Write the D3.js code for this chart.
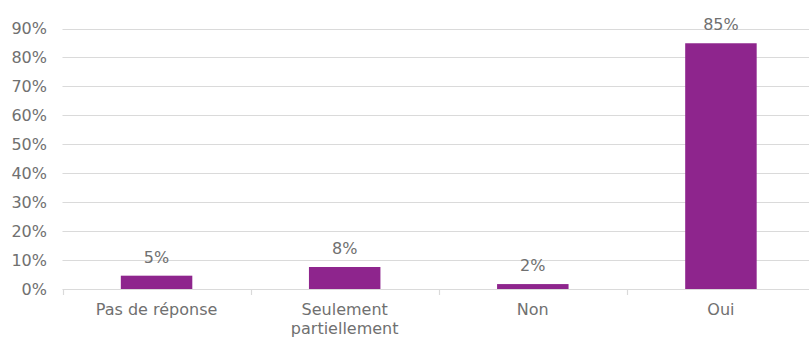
<!DOCTYPE html>
<html>
<head>
<meta charset="utf-8">
<script src="https://cdn.jsdelivr.net/npm/d3@7"></script>
<style>
  body { margin: 0; background: #fff; }
  text { font-family: "DejaVu Sans", sans-serif; }
</style>
</head>
<body>
<div id="chart"></div>
<script>
// values (percent)
const categories = ['Pas de réponse', 'Seulement\npartiellement', 'Non', 'Oui'];
const values = [4.6, 7.6, 1.7, 84.9];
const yTicks = [0, 10, 20, 30, 40, 50, 60, 70, 80, 90];

const width = 809, height = 340;
const margin = { top: 28.5, left: 62.5, bottom: 289 };

const svg = d3.select('#chart').append('svg')
  .attr('width', width)
  .attr('height', height);

const x = d3.scaleBand()
  .domain(categories)
  .range([margin.left, 815])
  .paddingInner(0.62)
  .paddingOuter(0.31);

const y = d3.scaleLinear()
  .domain([0, 90])
  .range([margin.bottom, margin.top]);

const textColor = '#707070';
const gridColor = '#dadada';
const barColor = '#8e258d';

// horizontal gridlines
svg.append('g')
  .selectAll('line')
  .data(yTicks)
  .enter()
  .append('line')
  .attr('x1', margin.left)
  .attr('x2', width)
  .attr('y1', d => Math.round(y(d)) + 0.5)
  .attr('y2', d => Math.round(y(d)) + 0.5)
  .attr('stroke', gridColor)
  .attr('stroke-width', 1.2);

// y axis labels
const yAxis = d3.axisLeft(y)
  .tickValues(yTicks)
  .tickSize(0)
  .tickPadding(0)
  .tickFormat(d => d + '%');

svg.append('g')
  .attr('transform', 'translate(47,0)')
  .call(yAxis)
  .call(g => g.select('.domain').remove())
  .selectAll('text')
  .attr('fill', textColor)
  .style('font-size', '16px');

// category boundary ticks
const step = x.step();
const boundaries = d3.range(categories.length).map(i => margin.left + i * step);
svg.append('g')
  .selectAll('line')
  .data(boundaries)
  .enter()
  .append('line')
  .attr('x1', d => Math.round(d) + 0.5)
  .attr('x2', d => Math.round(d) + 0.5)
  .attr('y1', margin.bottom)
  .attr('y2', margin.bottom + 6)
  .attr('stroke', gridColor)
  .attr('stroke-width', 1.2);

// bars
svg.append('g')
  .selectAll('rect')
  .data(values)
  .enter()
  .append('rect')
  .attr('x', (d, i) => x(categories[i]))
  .attr('width', x.bandwidth())
  .attr('y', d => y(d))
  .attr('height', d => y(0) - y(d))
  .attr('fill', barColor);

// value labels
const fmt = d => Math.round(d) + '%';
svg.append('g')
  .selectAll('text')
  .data(values)
  .enter()
  .append('text')
  .attr('x', (d, i) => x(categories[i]) + x.bandwidth() / 2)
  .attr('y', d => y(d) - 13)
  .attr('text-anchor', 'middle')
  .attr('fill', textColor)
  .style('font-size', '16px')
  .text(fmt);

// category labels (multi-line)
const catLabels = svg.append('g')
  .selectAll('text')
  .data(categories)
  .enter()
  .append('text')
  .attr('x', d => x(d) + x.bandwidth() / 2)
  .attr('y', 315)
  .attr('text-anchor', 'middle')
  .attr('fill', textColor)
  .style('font-size', '16px');

catLabels.each(function(d) {
  const lines = d.split('\n');
  d3.select(this).selectAll('tspan')
    .data(lines)
    .enter()
    .append('tspan')
    .attr('x', x(d) + x.bandwidth() / 2)
    .attr('dy', (l, i) => i === 0 ? 0 : 19)
    .text(l => l);
});
</script>
</body>
</html>
